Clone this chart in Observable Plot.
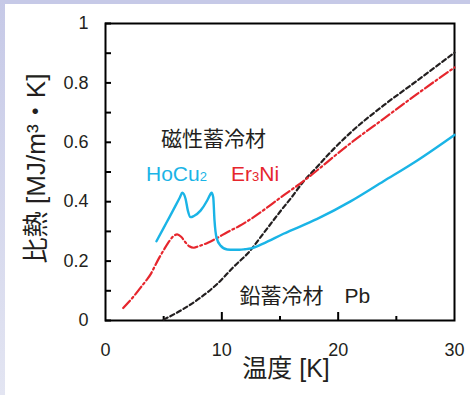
<!DOCTYPE html>
<html><head><meta charset="utf-8">
<script src="https://cdn.jsdelivr.net/npm/d3@7"></script>
<script src="https://cdn.jsdelivr.net/npm/@observablehq/plot@0.6"></script>
<style>
html,body{margin:0;padding:0;}
body{width:470px;height:395px;overflow:hidden;background:#fff;position:relative;}
#stripTop{position:absolute;left:0;top:0;width:470px;height:4px;background:#c6c9e7;}
#stripLeft{position:absolute;left:0;top:0;width:5px;height:395px;background:linear-gradient(to bottom,#c6c9e7,#e3e5f2);}
#panel{padding-left:5px;padding-top:4px;}
</style></head><body><div id="stripTop"></div><div id="stripLeft"></div><div id="panel"></div>
<script>
// HoCu2 (solid cyan)
const hoCu2T = [4.38, 5.0, 5.5, 6.0, 6.4, 6.6, 6.88, 7.08, 7.31, 7.6, 8.17, 8.74, 9.0, 9.11, 9.26, 9.37, 9.54, 9.89, 10.46, 11.0, 11.5, 12.0, 12.5, 13.5, 15.3, 18.2, 21.1, 23.9, 26.8, 30.0];
const hoCu2C = [0.267, 0.312, 0.348, 0.385, 0.415, 0.43, 0.41, 0.37, 0.348, 0.352, 0.37, 0.404, 0.424, 0.43, 0.415, 0.337, 0.28, 0.252, 0.239, 0.238, 0.238, 0.24, 0.243, 0.258, 0.292, 0.342, 0.402, 0.469, 0.539, 0.625];
// Er3Ni (red dash-dot)
const er3NiT = [1.52, 2.0, 2.5, 3.0, 3.5, 3.9, 4.2, 4.6, 5.0, 5.5, 5.9, 6.16, 6.5, 6.9, 7.2, 7.6, 8.0, 8.8, 9.6, 10.5, 11.5, 12.5, 15.3, 16.9, 21.1, 23.9, 26.8, 30.0];
const er3NiC = [0.042, 0.062, 0.085, 0.11, 0.135, 0.157, 0.18, 0.21, 0.237, 0.268, 0.286, 0.29, 0.282, 0.262, 0.25, 0.245, 0.25, 0.262, 0.278, 0.298, 0.318, 0.342, 0.421, 0.466, 0.598, 0.679, 0.763, 0.852];
// Pb (black dashed)
const pbT = [5.0, 6.7, 8.2, 9.6, 11.0, 12.5, 13.2, 14.0, 15.0, 16.0, 16.9, 18.2, 19.6, 21.1, 23.9, 26.8, 30.0];
const pbC = [0.003, 0.039, 0.078, 0.123, 0.18, 0.238, 0.274, 0.315, 0.366, 0.415, 0.462, 0.518, 0.577, 0.634, 0.724, 0.808, 0.902];

const xDomain = [0, 30];
const yDomain = [0, 1];
const yTicks = [0, 0.1, 0.2, 0.3, 0.4, 0.5, 0.6, 0.7, 0.8, 0.9, 1];
const yTickLabels = [0, 0.2, 0.4, 0.6, 0.8, 1];
const xMajorTicks = [10, 20];
const xMinorTicks = [5, 15, 25];
const xTickLabels = [0, 10, 20, 30];
const xTitle = "温度 [K]";
const yTitle = "比熱 [MJ/m³・K]";
const noteText = ["磁性蓄冷材", "HoCu2", "Er3Ni", "鉛蓄冷材　Pb"];
const noteT = [9.29, 3.48, 10.79, 11.52];
const noteC = [0.610, 0.494, 0.494, 0.080];

const ink = "#231f20", frameInk = "black", cyan = "#1ab4e6", red = "#e6262d";
const font = "Liberation Sans, Noto Sans CJK JP, sans-serif";

const toRows = (T, C) => T.map((t, i) => ({t, c: C[i]}));
const notes = noteText.map((s, i) => ({s, t: noteT[i], c: noteC[i]}));

const W = 465, H = 391, ML = 100, MR = 16, MT = 19, MB = 75;
const frameW = W - ML - MR, frameH = H - MT - MB;

const chart = Plot.plot({
  width: W, height: H,
  marginLeft: ML, marginRight: MR, marginTop: MT, marginBottom: MB,
  x: {domain: xDomain, label: null},
  y: {domain: yDomain, label: null},
  marks: [
    Plot.frame({stroke: frameInk, strokeWidth: 2}),
    Plot.ruleY(yTicks, {x1: xDomain[0], x2: xDomain[0] + 6 * (xDomain[1] - xDomain[0]) / frameW, stroke: frameInk, strokeWidth: 2}),
    Plot.ruleX(xMajorTicks, {y1: yDomain[0], y2: yDomain[0] + 8 * (yDomain[1] - yDomain[0]) / frameH, stroke: frameInk, strokeWidth: 2}),
    Plot.ruleX(xMinorTicks, {y1: yDomain[0], y2: yDomain[0] + 4 * (yDomain[1] - yDomain[0]) / frameH, stroke: frameInk, strokeWidth: 2}),
    Plot.line(toRows(pbT, pbC), {x: "t", y: "c", stroke: ink, strokeWidth: 2.2, strokeDasharray: "4.5,3", curve: "monotone-x"}),
    Plot.line(toRows(er3NiT, er3NiC), {x: "t", y: "c", stroke: red, strokeWidth: 2.2, strokeDasharray: "10,3,2,3", curve: "monotone-x"}),
    Plot.line(toRows(hoCu2T, hoCu2C), {x: "t", y: "c", stroke: cyan, strokeWidth: 2.4, curve: "monotone-x"}),
    Plot.axisY(yTickLabels, {tickSize: 0, tickPadding: 17, fontSize: 18, fontFamily: font, fill: ink, tickFormat: d => String(+d.toFixed(1)), label: null}),
    Plot.axisX(xTickLabels, {tickSize: 0, tickPadding: 23, fontSize: 18, fontFamily: font, fill: ink, tickFormat: d => String(d), label: null}),
    Plot.text([xTitle], {text: d => d, frameAnchor: "bottom", dy: 56, dx: 6, fontSize: 25, fontFamily: font, fill: ink}),
    Plot.text([yTitle], {text: d => d, frameAnchor: "left", fontSize: 25, fontFamily: font, fill: ink}),
    Plot.text([notes[0]], {x: "t", y: "c", text: "s", fontSize: 21, fontFamily: font, fill: ink, textAnchor: "middle"}),
    Plot.text([notes[1]], {x: "t", y: "c", text: "s", fontSize: 21, fontFamily: font, fill: cyan, textAnchor: "start"}),
    Plot.text([notes[2]], {x: "t", y: "c", text: "s", fontSize: 21, fontFamily: font, fill: red, textAnchor: "start"}),
    Plot.text([notes[3]], {x: "t", y: "c", text: "s", fontSize: 21, fontFamily: font, fill: ink, textAnchor: "start"})
  ]
});

const svgns = "http://www.w3.org/2000/svg";
function withSub(el, parts) {
  el.textContent = "";
  parts.forEach(([s, small]) => {
    const ts = document.createElementNS(svgns, "tspan");
    ts.textContent = s;
    if (small) ts.setAttribute("font-size", "0.62em");
    el.appendChild(ts);
  });
}
document.getElementById("panel").appendChild(chart);

let yTitleEl = null;
d3.select(chart).selectAll("text").each(function () {
  const t = this.textContent;
  if (t === "HoCu2") withSub(this, [["HoCu", false], ["2", true]]);
  else if (t === "Er3Ni") withSub(this, [["Er", false], ["3", true], ["Ni", false]]);
  else if (t === yTitle) yTitleEl = this;
});
if (yTitleEl) {
  const len = yTitleEl.getComputedTextLength();
  const target = 190;
  if (len > 0) yTitleEl.setAttribute("font-size", (25 * target / len).toFixed(2));
  yTitleEl.setAttribute("text-anchor", "middle");
  yTitleEl.setAttribute("transform", "translate(31,164) rotate(-90)");
}
</script>
</body></html>
